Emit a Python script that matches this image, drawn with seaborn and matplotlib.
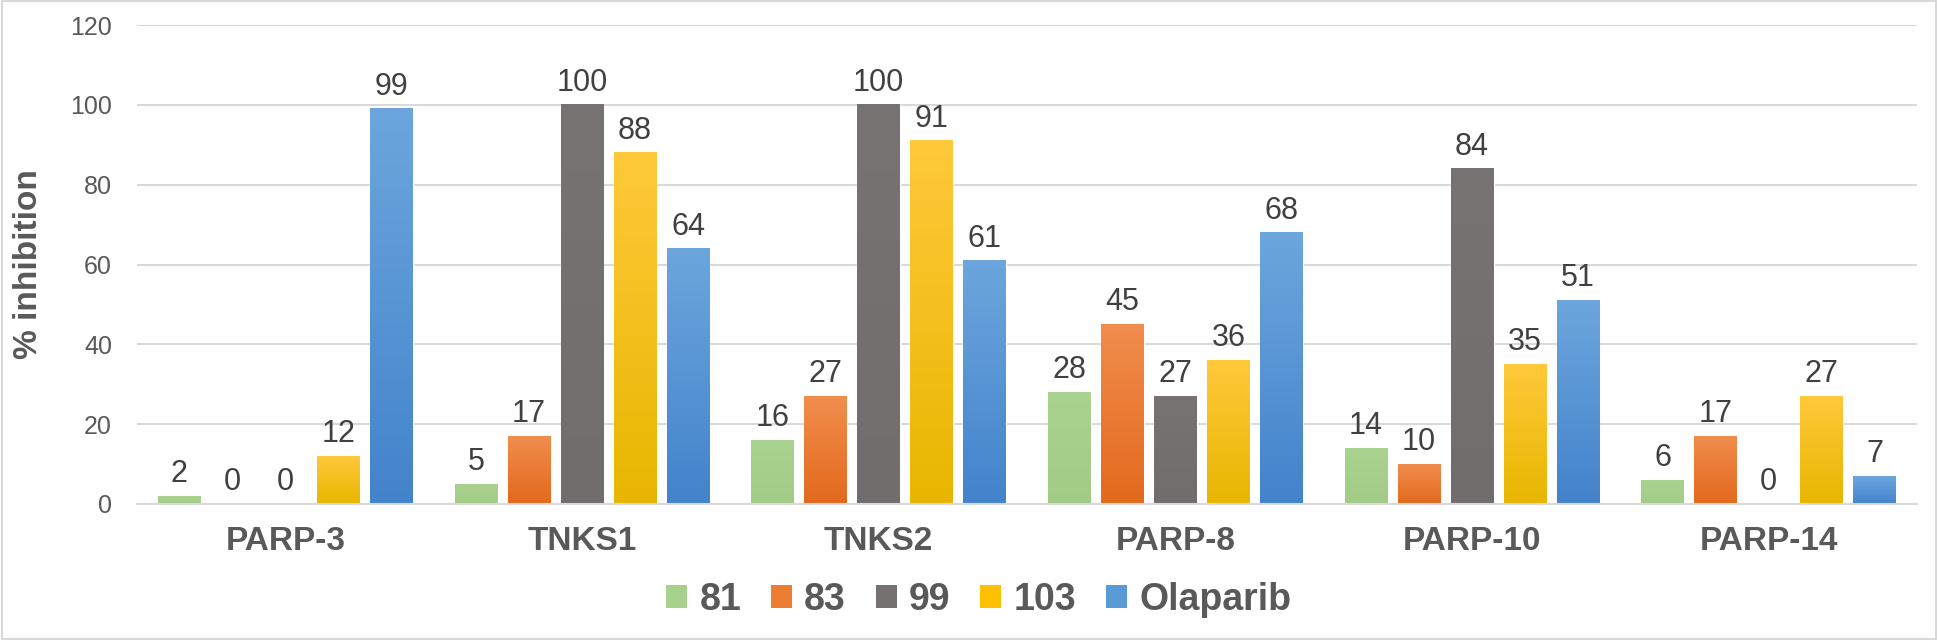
import numpy as np
import pandas as pd
import matplotlib
matplotlib.use("Agg")
import matplotlib.pyplot as plt
import seaborn as sns
from matplotlib.patches import Patch, Rectangle
from matplotlib.colors import LinearSegmentedColormap

# data
targets = ["PARP-3", "TNKS1", "TNKS2", "PARP-8", "PARP-10", "PARP-14"]
compounds = ["81", "83", "99", "103", "Olaparib"]
vals_81 = [2, 5, 16, 28, 14, 6]
vals_83 = [0, 17, 27, 45, 10, 17]
vals_99 = [0, 100, 100, 27, 84, 0]
vals_103 = [12, 88, 91, 36, 35, 27]
vals_olaparib = [99, 64, 61, 68, 51, 7]
colors = ["#A9D18E", "#ED7D31", "#767171", "#FFC000", "#5B9BD5"]
# light top / darker bottom, like the office-style gradient fill
grad_top = ["#AAD290", "#F18D4E", "#787373", "#FFC93A", "#6CA6DD"]
grad_bot = ["#A2CC86", "#E3691C", "#726D6D", "#E8B600", "#4383CB"]
y_ticks = [0, 20, 40, 60, 80, 100, 120]

series = [vals_81, vals_83, vals_99, vals_103, vals_olaparib]
rows = []
for comp, vals in zip(compounds, series):
    for t, v in zip(targets, vals):
        rows.append({"target": t, "compound": comp, "inhibition": v})
df = pd.DataFrame(rows)

sns.set_style("white")
plt.rcParams["font.family"] = ["Liberation Sans", "DejaVu Sans"]

fig = plt.figure(figsize=(19.38, 6.42), dpi=100)
ax = fig.add_axes([0.0707, 0.215, 0.9185, 0.746])

sns.barplot(data=df, x="target", y="inhibition", hue="compound",
            order=targets, hue_order=compounds, palette=colors,
            width=0.893, gap=0.19, saturation=1, legend=False, ax=ax)

# gradient overlay on each bar
grad = np.linspace(0, 1, 256).reshape(-1, 1)
for cont, top, bot in zip(ax.containers, grad_top, grad_bot):
    cmap = LinearSegmentedColormap.from_list("g", [bot, top])
    for bar in cont:
        x, w, h = bar.get_x(), bar.get_width(), bar.get_height()
        if h <= 0:
            continue
        ax.imshow(grad, extent=[x, x + w, 0, h], origin="lower", aspect="auto",
                  cmap=cmap, zorder=bar.get_zorder() + 0.1)

for cont in ax.containers:
    ax.bar_label(cont, fmt="%d", padding=5, fontsize=22, color="#404040")

ax.set_ylim(0, 120)
ax.set_yticks(y_ticks)
ax.set_xlim(-0.5, len(targets) - 0.5)
ax.yaxis.grid(True, color="#D9D9D9", linewidth=1.5)
ax.set_axisbelow(True)
for s in ["top", "right", "left"]:
    ax.spines[s].set_visible(False)
ax.spines["bottom"].set_color("#D9D9D9")
ax.spines["bottom"].set_linewidth(1.5)

ax.tick_params(axis="y", length=0, pad=18, labelsize=18, labelcolor="#595959")
ax.tick_params(axis="x", length=0, pad=16)
for lab in ax.get_xticklabels():
    lab.set_fontsize(24)
    lab.set_fontweight("bold")
    lab.set_color("#595959")

ax.set_xlabel("")
ax.set_ylabel("% inhibition", fontsize=24, fontweight="bold", color="#595959")
ax.yaxis.set_label_coords(-0.052, 0.5)

handles = [Patch(facecolor=c, edgecolor="none") for c in colors]
leg = fig.legend(handles, compounds, loc="center", bbox_to_anchor=(0.505, 0.066),
                 ncol=5, frameon=False, handlelength=0.56, handleheight=0.56,
                 handletextpad=0.32, columnspacing=0.8,
                 prop={"family": ["Liberation Sans Narrow", "Liberation Sans"],
                       "weight": "bold", "size": 27})
for t in leg.get_texts():
    t.set_color("#595959")

fig.patches.append(Rectangle((0.001, 0.004), 0.998, 0.994, transform=fig.transFigure,
                             fill=False, edgecolor="#D9D9D9", linewidth=1.5))

fig.savefig("out.png", dpi=100)
plt.close(fig)
